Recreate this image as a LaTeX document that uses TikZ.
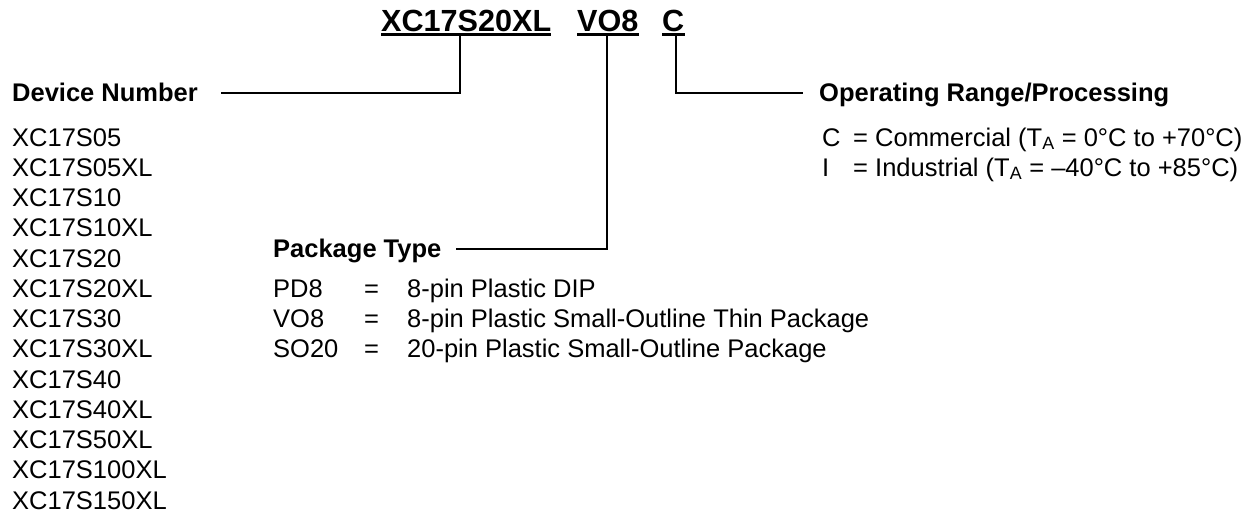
\documentclass[tikz,border=0pt]{standalone}
\usepackage{fontspec}
\setmainfont{Liberation Sans}
\begin{document}
\begin{tikzpicture}[x=1pt,y=-1pt,
  txt/.style={anchor=base west,inner sep=0pt,font=\fontsize{25.5}{30}\selectfont},
  hdr/.style={anchor=base west,inner sep=0pt,font=\fontsize{25.5}{30}\selectfont\bfseries},
  ttl/.style={anchor=base west,inner sep=0pt,font=\fontsize{30.6}{36}\selectfont\bfseries},
  conn/.style={line width=2.4pt,line join=miter},
  ul/.style={line width=2.2pt}]
\useasboundingbox (0,0) rectangle (1259,522);

% title
\node[ttl] (t1) at (381,31) {XC17S20XL};
\node[ttl] (t2) at (577,31) {VO8};
\node[ttl] (t3) at (662,31) {C};
\foreach \t in {t1,t2,t3}
  \draw[ul] ([yshift=-3.5pt]\t.base west) -- ([yshift=-3.5pt]\t.base east);

% headers
\node[hdr] (dn) at (12,101) {Device Number};
\node[hdr] (pt) at (273,257) {Package Type};
\node[hdr] (op) at (819,101) {Operating Range/Processing};

% device list
\foreach \d [count=\i from 0] in {XC17S05,XC17S05XL,XC17S10,XC17S10XL,XC17S20,XC17S20XL,XC17S30,XC17S30XL,XC17S40,XC17S40XL,XC17S50XL,XC17S100XL,XC17S150XL}
  \node[txt] (d\i) at (12,146+30.25*\i) {\d};

% package list
\node[txt] (p1) at (273,297.25) {PD8};
\node[txt] (p1e) at (364,297.25) {=};
\node[txt] (p1t) at (407,297.25) {8-pin Plastic DIP};
\node[txt] (p2) at (273,327.5) {VO8};
\node[txt] (p2e) at (364,327.5) {=};
\node[txt] (p2t) at (407,327.5) {8-pin Plastic Small-Outline Thin Package};
\node[txt] (p3) at (273,357.75) {SO20};
\node[txt] (p3e) at (364,357.75) {=};
\node[txt] (p3t) at (407,357.75) {20-pin Plastic Small-Outline Package};

% operating range
\node[txt] (lc) at (822,146) {C};
\node[txt] (lct) at (853,146) {= Commercial (T\textsubscript{A} = 0°C to +70°C)};
\node[txt] (li) at (822,176) {I};
\node[txt] (lit) at (853,176) {= Industrial (T\textsubscript{A} = –40°C to +85°C)};

% connectors
\coordinate (j1) at (460,93);
\coordinate (j2) at (607,249);
\coordinate (j3) at (676,93);
\draw[conn] ([yshift=-5pt]t1.south -| j1) -- (j1) -- ([xshift=23pt]dn.east |- j1);
\draw[conn] ([yshift=-5pt]t2.south -| j2) -- (j2) -- ([xshift=14pt]pt.east |- j2);
\draw[conn] ([yshift=-5pt]t3.south -| j3) -- (j3) -- ([xshift=-16pt]op.west |- j3);
\end{tikzpicture}
\end{document}
